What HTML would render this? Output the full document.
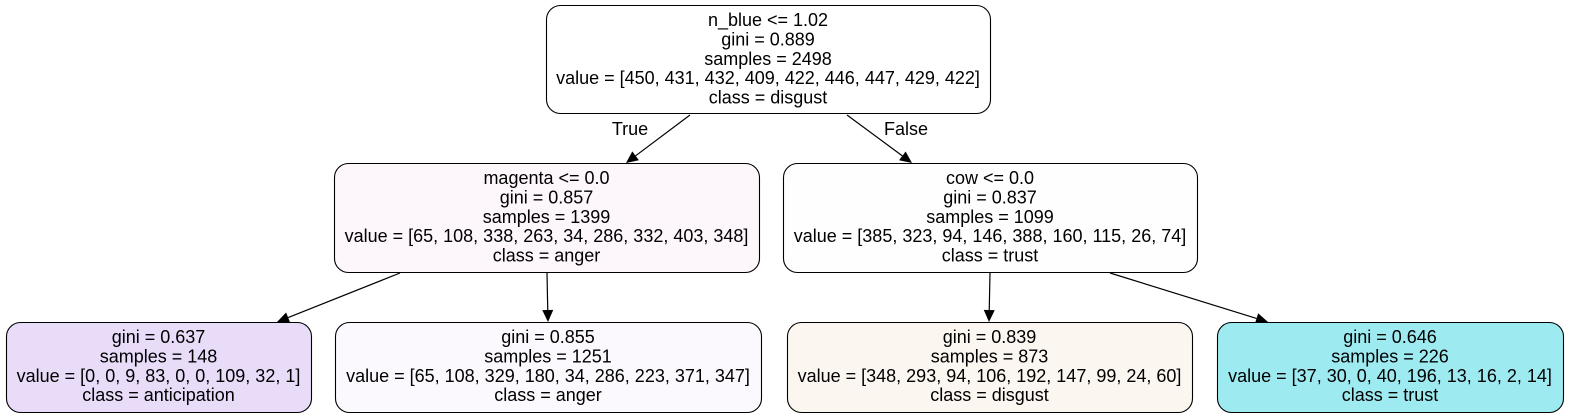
<!DOCTYPE html>
<html><head><meta charset="utf-8"><style>
html,body{margin:0;padding:0;background:#fff;}
svg{display:block;}
text{font-family:"Liberation Sans",Arial,sans-serif;font-size:18px;fill:#000;text-anchor:middle;}
</style></head><body>
<svg width="1572" height="419" viewBox="0 0 1572 419">
<g id="edges"></g>
<text x="630" y="135">True</text>
<text x="906" y="135">False</text>
<g id="nodes"></g>
</svg>
<script>
const ns="http://www.w3.org/2000/svg";
const nodeNames=["root-node","magenta-node","cow-node","anticipation-leaf","anger-leaf","disgust-leaf","trust-leaf"];
const nodeBoxes=[[546,5,444,108],[334,163,425,109],[783,163,414,109],[6,322,305,90],[335,322,426,90],[787,322,405,90],[1217,322,346,90]];
const nodeFills=["#ffffff","#fdf6fb","#fffefe","#e8dcf9","#fbf9fe","#fcf6f0","#9debf1"];
const nodeLines=[
["n_blue <= 1.02","gini = 0.889","samples = 2498","value = [450, 431, 432, 409, 422, 446, 447, 429, 422]","class = disgust"],
["magenta <= 0.0","gini = 0.857","samples = 1399","value = [65, 108, 338, 263, 34, 286, 332, 403, 348]","class = anger"],
["cow <= 0.0","gini = 0.837","samples = 1099","value = [385, 323, 94, 146, 388, 160, 115, 26, 74]","class = trust"],
["gini = 0.637","samples = 148","value = [0, 0, 9, 83, 0, 0, 109, 32, 1]","class = anticipation"],
["gini = 0.855","samples = 1251","value = [65, 108, 329, 180, 34, 286, 223, 371, 347]","class = anger"],
["gini = 0.839","samples = 873","value = [348, 293, 94, 106, 192, 147, 99, 24, 60]","class = disgust"],
["gini = 0.646","samples = 226","value = [37, 30, 0, 40, 196, 13, 16, 2, 14]","class = trust"]];
const edgeList=[[690,115,626,163],[847,115,912,163],[400,273,277,322],[547,273,548,322],[990,273,989,322],[1110,273,1268,322]];
const eg=document.getElementById('edges');
edgeList.forEach(e=>{
 const [x1,y1,x2,y2]=e;const dx=x2-x1,dy=y2-y1,L=Math.hypot(dx,dy),ux=dx/L,uy=dy/L;
 const bx=x2-ux*12,by=y2-uy*12;
 const l=document.createElementNS(ns,'line');
 
 
 l.setAttribute('x1',x1);l.setAttribute('y1',y1);l.setAttribute('x2',bx);l.setAttribute('y2',by);
 l.setAttribute('stroke','#000');l.setAttribute('stroke-width','1.2');eg.appendChild(l);
 const p=document.createElementNS(ns,'path');
 
 
 p.setAttribute('d',`M${x2},${y2} L${bx-uy*5.5},${by+ux*5.5} L${bx+uy*5.5},${by-ux*5.5} Z`);
 p.setAttribute('fill','#000');eg.appendChild(p);
});
const ng=document.getElementById('nodes');
nodeBoxes.forEach((b,i)=>{
 const g=document.createElementNS(ns,'g');
 
 
 const r=document.createElementNS(ns,'rect');
 r.setAttribute('x',b[0]+0.5);r.setAttribute('y',b[1]+0.5);r.setAttribute('width',b[2]);r.setAttribute('height',b[3]);
 r.setAttribute('rx',14);r.setAttribute('fill',nodeFills[i]);r.setAttribute('stroke','#000');r.setAttribute('stroke-width','1.1');
 g.appendChild(r);
 const cx=b[0]+b[2]/2;
 nodeLines[i].forEach((t,j)=>{
  const tx=document.createElementNS(ns,'text');
  
  
  tx.setAttribute('x',cx);tx.setAttribute('y',b[1]+21+j*19.4);tx.textContent=t;g.appendChild(tx);
 });
 ng.appendChild(g);
});
</script>
</body></html>
